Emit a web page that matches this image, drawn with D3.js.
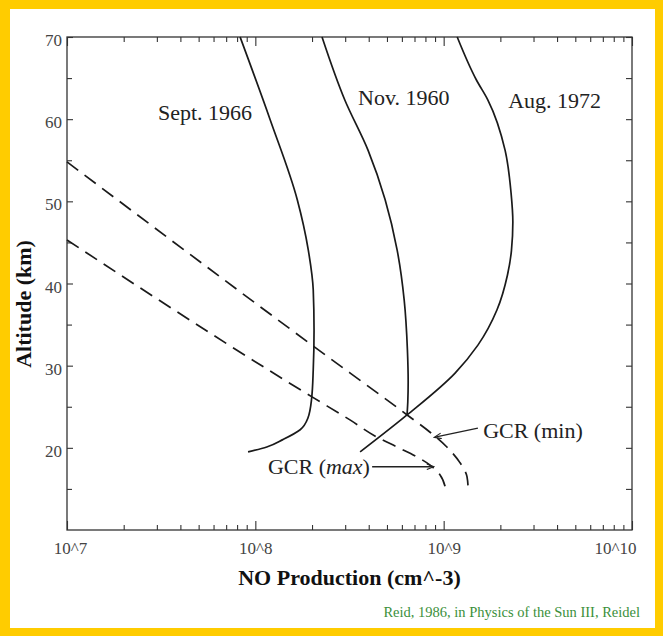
<!DOCTYPE html>
<html><head><meta charset="utf-8">
<script src="https://cdn.jsdelivr.net/npm/d3@7"></script>
<style>body{margin:0;background:#fff}svg{display:block}</style>
</head><body><svg id="c" width="666" height="637"></svg>
<script>
// ---- data (NO production in cm^-3, altitude in km) ----
const xTickValues = [1e7, 1e8, 1e9, 1e10];
const xTickLabels = ["10^7", "10^8", "10^9", "10^10"];
const yTickValues = [20, 30, 40, 50, 60, 70];
const yMinorTicks = [15, 25, 35, 45, 55, 65];

const sept1966 = [[8.3e7,70],[1.20e8,59.9],[1.67e8,50.2],[1.91e8,44.1],[2.03e8,39.2],[2.05e8,34.3],[2.03e8,29.5],[1.99e8,26.0],[1.90e8,23.6],[1.73e8,22.2],[1.40e8,21.0],[1.15e8,20.1],[9.15e7,19.5]];
const nov1960  = [[2.26e8,70],[2.99e8,62.3],[3.97e8,56.2],[4.89e8,50.2],[5.66e8,44.1],[6.17e8,38.0],[6.42e8,31.9],[6.48e8,28.0],[6.45e8,25.6],[6.39e8,24.0]];
const aug1972  = [[1.18e9,70],[1.49e9,64.8],[1.72e9,62.3],[2.12e9,56.2],[2.28e9,51.0],[2.33e9,47.5],[2.29e9,44.0],[2.18e9,41.0],[1.92e9,36.8],[1.52e9,32.5],[1.15e9,29.1],[6.39e8,24.0],[3.6e8,19.5]];
const gcrMin   = [[1.0e7,54.8],[2.0e8,32.5],[6.4e8,24.0],[8.47e8,21.9],[1.04e9,20.1],[1.22e9,18.2],[1.33e9,16.5],[1.35e9,14.9]];
const gcrMax   = [[1.0e7,45.3],[2.0e8,26.2],[3.18e8,23.4],[4.43e8,21.3],[5.66e8,20.1],[7.22e8,18.9],[8.47e8,17.9],[9.57e8,16.7],[1.02e9,15.2]];

const curveLabels = [
  {text:"Sept. 1966", x:3.04e7, y:59.9},
  {text:"Nov. 1960",  x:3.51e8, y:61.7},
  {text:"Aug. 1972",  x:2.2e9,  y:61.4}
];
const gcrMinLabel = {x:1.62e9, y:21.2};
const gcrMaxLabel = {x:4.06e8, y:16.8};
const gcrMinArrow = [[1.52e9,22.4],[9.0e8,21.3]];
const gcrMaxArrow = [[4.17e8,17.7],[8.79e8,17.7]];

// ---- layout ----
const svg = d3.select("#c");
const W = 666, H = 637;
const m = {left:67, right:632, top:37, bottom:530};

svg.append("rect").attr("x",0).attr("y",0).attr("width",W).attr("height",H).attr("fill","#fff");
svg.append("rect").attr("x",0).attr("y",0).attr("width",663).attr("height",636).attr("fill","#FFCC00");
svg.append("rect").attr("x",10).attr("y",9).attr("width",645).attr("height",619).attr("fill","#fff");

const x = d3.scaleLog().domain([1e7,1e10]).range([m.left,m.right]);
const y = d3.scaleLinear().domain([10,70]).range([m.bottom,m.top]);

const serif = "'Liberation Serif','Times New Roman',serif";
const axisColor = "#333";

// minor log ticks
const minorX = [];
for (let e=7;e<10;e++) for (let k=2;k<=9;k++) minorX.push(k*Math.pow(10,e));

function styleAxis(g){
  g.select(".domain").remove();
  g.selectAll("line").attr("stroke",axisColor).attr("stroke-width",1.1);
  g.selectAll("text").attr("font-family",serif).attr("font-size",17).attr("fill","#444");
}

// bottom axis major
const gB = svg.append("g").attr("transform",`translate(0,${m.bottom})`)
  .call(d3.axisBottom(x).tickValues(xTickValues).tickFormat((d,i)=>xTickLabels[i]).tickSizeInner(-9).tickSizeOuter(0).tickPadding(12));
styleAxis(gB);
gB.selectAll(".tick text").filter(d=>d===1e10).attr("text-anchor","end").attr("dx",4);
gB.selectAll(".tick text").filter(d=>d===1e7).attr("dx",3);
// bottom minor
const gBm = svg.append("g").attr("transform",`translate(0,${m.bottom})`)
  .call(d3.axisBottom(x).tickValues(minorX).tickFormat("").tickSizeInner(-5).tickSizeOuter(0));
styleAxis(gBm);
// top axis
const gT = svg.append("g").attr("transform",`translate(0,${m.top})`)
  .call(d3.axisTop(x).tickValues(xTickValues).tickFormat("").tickSizeInner(-9).tickSizeOuter(0));
styleAxis(gT);
const gTm = svg.append("g").attr("transform",`translate(0,${m.top})`)
  .call(d3.axisTop(x).tickValues(minorX).tickFormat("").tickSizeInner(-5).tickSizeOuter(0));
styleAxis(gTm);
// left axis
const gL = svg.append("g").attr("transform",`translate(${m.left},0)`)
  .call(d3.axisLeft(y).tickValues(yTickValues).tickSizeInner(-6).tickSizeOuter(0).tickPadding(5));
styleAxis(gL);
gL.selectAll(".tick text").attr("dy","0.5em");
const gLm = svg.append("g").attr("transform",`translate(${m.left},0)`)
  .call(d3.axisLeft(y).tickValues(yMinorTicks).tickFormat("").tickSizeInner(-5).tickSizeOuter(0));
styleAxis(gLm);
// right axis
const gR = svg.append("g").attr("transform",`translate(${m.right},0)`)
  .call(d3.axisRight(y).tickValues(yTickValues.concat(yMinorTicks)).tickFormat("").tickSizeInner(-6).tickSizeOuter(0));
styleAxis(gR);

// frame
svg.append("rect").attr("x",m.left).attr("y",m.top).attr("width",m.right-m.left).attr("height",m.bottom-m.top)
  .attr("fill","none").attr("stroke",axisColor).attr("stroke-width",1.3);

// curves
const line = d3.line().x(d=>x(d[0])).y(d=>y(d[1])).curve(d3.curveMonotoneY);
[sept1966, nov1960, aug1972].forEach(s=>{
  svg.append("path").datum(s).attr("d",line).attr("fill","none").attr("stroke","#1a1a1a").attr("stroke-width",1.7);
});
[gcrMin, gcrMax].forEach(s=>{
  svg.append("path").datum(s).attr("d",line).attr("fill","none").attr("stroke","#1a1a1a").attr("stroke-width",1.7)
    .attr("stroke-dasharray","14,8");
});

// labels
svg.selectAll(".clab").data(curveLabels).enter().append("text")
  .attr("x",d=>x(d.x)).attr("y",d=>y(d.y)).text(d=>d.text)
  .attr("font-family",serif).attr("font-size",22).attr("fill","#222");

// arrows
const defs = svg.append("defs");
defs.append("marker").attr("id","ah").attr("viewBox","0 0 10 10").attr("refX",9).attr("refY",5)
  .attr("markerWidth",9).attr("markerHeight",7).attr("orient","auto").attr("markerUnits","userSpaceOnUse")
  .append("path").attr("d","M0,1 L10,5 L0,9").attr("fill","none").attr("stroke","#222").attr("stroke-width",1.6);
[gcrMinArrow, gcrMaxArrow].forEach(a=>{
  svg.append("line").attr("x1",x(a[0][0])).attr("y1",y(a[0][1])).attr("x2",x(a[1][0])).attr("y2",y(a[1][1]))
    .attr("stroke","#222").attr("stroke-width",1.3).attr("marker-end","url(#ah)");
});
svg.append("text").attr("x",x(gcrMinLabel.x)).attr("y",y(gcrMinLabel.y))
  .attr("font-family",serif).attr("font-size",22).attr("fill","#222").text("GCR (min)");
const tmax = svg.append("text").attr("x",x(gcrMaxLabel.x)).attr("y",y(gcrMaxLabel.y)).attr("text-anchor","end")
  .attr("font-family",serif).attr("font-size",22).attr("fill","#222");
tmax.append("tspan").text("GCR (");
tmax.append("tspan").attr("font-style","italic").text("max");
tmax.append("tspan").text(")");

// axis titles
svg.append("text").attr("x",(m.left+m.right)/2).attr("y",585).attr("text-anchor","middle")
  .attr("font-family",serif).attr("font-weight","bold").attr("font-size",22).attr("fill","#111")
  .text("NO Production (cm^-3)");
svg.append("text").attr("transform","translate(31,304) rotate(-90)").attr("text-anchor","middle")
  .attr("font-family",serif).attr("font-weight","bold").attr("font-size",22).attr("fill","#111")
  .text("Altitude (km)");

// credit
svg.append("text").attr("x",640).attr("y",617).attr("text-anchor","end")
  .attr("font-family",serif).attr("font-size",14.5).attr("fill","#3a8f3a")
  .text("Reid, 1986, in Physics of the Sun III, Reidel");
</script></body></html>
